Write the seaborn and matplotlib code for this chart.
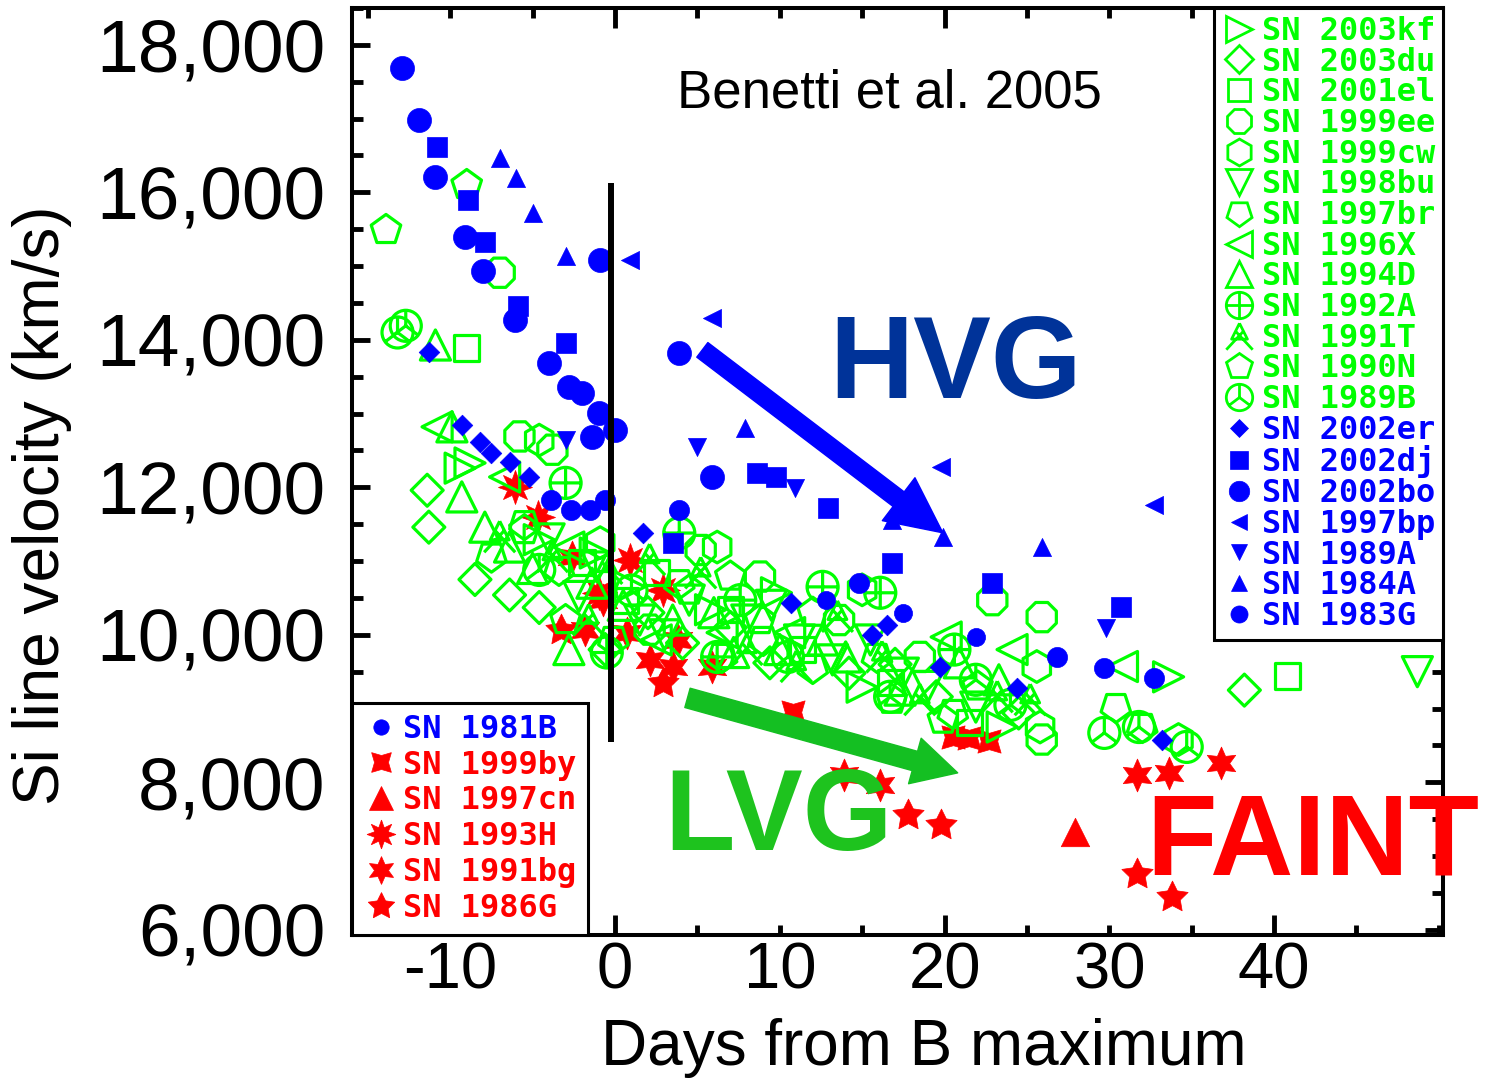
import matplotlib
matplotlib.use("Agg")
import matplotlib.pyplot as plt
import seaborn as sns
from matplotlib.path import Path
from matplotlib.lines import Line2D
from matplotlib.ticker import MultipleLocator

# ---------------------------------------------------------------
# Data: days from B maximum / Si II line velocity (km/s)
# ---------------------------------------------------------------
# LVG (green, open symbols)
sn2003kf_days = [-9.4, -8.8, -4.6, -1.2, 0.9, 5.8, 9.8, 15.0, 23.5, 33.6]
sn2003kf_vel = [12260, 12330, 11290, 11110, 10650, 10340, 10570, 9290, 8750, 9430]
sn2003du_days = [-11.4, -11.3, -8.5, -6.4, -4.6, -0.6, 2.0, 4.1, 7.0, 9.4, 14.2, 17.0, 19.5, 24.5, 38.2]
sn2003du_vel = [11960, 11460, 10750, 10540, 10370, 9800, 10300, 9890, 10100, 9620, 9480, 9600, 9160, 8940, 9250]
sn2001el_days = [-9.0, -2.0, 0.6, 2.5, 7.0, 11.4, 16.7, 21.5, 40.8]
sn2001el_vel = [13890, 10980, 10470, 10840, 10340, 9800, 9350, 8810, 9440]
sn1999ee_days = [-7.0, -5.8, -3.8, 2.1, 5.2, 8.8, 13.6, 18.5, 22.9, 25.9, 25.9]
sn1999ee_vel = [14910, 12690, 12510, 10070, 11150, 10790, 10200, 9700, 10470, 10240, 8580]
sn1999cw_days = [-4.6, -0.9, 6.2, 15.0, 25.6, 25.8, 34.2]
sn1999cw_vel = [12640, 11250, 11190, 10610, 9570, 8750, 8580]
sn1998bu_days = [-4.0, -2.2, -1.1, 1.5, 3.0, 4.5, 8.0, 9.5, 11.2, 13.2, 15.5, 17.5, 19.0, 21.9, 48.7]
sn1998bu_vel = [11300, 10520, 10920, 10200, 10000, 10470, 10200, 10400, 9930, 9660, 9930, 9480, 9300, 9020, 9500]
sn1997br_days = [-7.5, -5.5, -3.4, -0.1, 3.9, 6.5, 9.0, 12.0, 15.9, 20.5, 30.4, 32.0]
sn1997br_vel = [11060, 11500, 10880, 9930, 10700, 9700, 9930, 9550, 9700, 8940, 9020, 8750]
sn1996x_days = [-10.8, -6.7, -2.8, 2.5, 6.5, 10.6, 20.1, 24.1, 30.8]
sn1996x_vel = [12820, 12140, 11190, 9930, 10030, 10030, 9970, 9800, 9570]
sn1994d_days = [-10.9, -9.9, -9.3, -7.9, -6.4, -5.0, -2.8, -1.4, 0.5, 3.5, 6.0, 7.2, 10.0, 12.6, 14.0,
                17.3, 20.9, 23.3]
sn1994d_vel = [13930, 12820, 11870, 11460, 11190, 10900, 9800, 10700, 10400, 10200, 10300, 9760, 9800,
               9930, 9700, 9250, 9620, 9390]
sn1992a_days = [-3.0, -0.5, 3.9, 6.2, 7.6, 12.6, 16.1, 20.6]
sn1992a_vel = [12060, 9760, 11380, 9700, 10470, 10650, 10570, 9800]
sn1991t_days = [-7.0, -3.8, -1.6, -0.5, 2.1, 5.2, 8.0, 11.0, 13.5, 16.2, 18.5, 23.2, 25.2]
sn1991t_vel = [11330, 11060, 10200, 10900, 11020, 10840, 9800, 9570, 10250, 9700, 9120, 9160, 9120]
sn1990n_days = [-13.9, -9.0, -5.5, -3.0, 4.5, 7.0, 8.8, 12.0, 16.8, 19.9, 22.0]
sn1990n_vel = [15490, 16100, 11420, 10200, 10600, 10790, 10200, 10300, 9120, 8850, 9300]
sn1989b_days = [-13.2, -12.7, -4.6, 1.0, 10.5, 16.7, 21.9, 24.0, 29.7, 31.8, 34.7]
sn1989b_vel = [14100, 14190, 10880, 10600, 9700, 9160, 9390, 9050, 8670, 8750, 8480]

# HVG (blue, filled symbols)
sn2002er_days = [-11.3, -9.3, -8.2, -7.5, -6.4, -5.2, 1.7, 10.7, 15.6, 16.5, 19.7, 24.4, 33.2]
sn2002er_vel = [13840, 12850, 12620, 12470, 12350, 12140, 11380, 10430, 10000, 10130, 9570, 9280, 8580]
sn2002dj_days = [-10.8, -8.9, -7.9, -5.9, -3.0, 3.5, 8.6, 9.8, 12.9, 16.8, 22.9, 30.7]
sn2002dj_vel = [16620, 15900, 15330, 14460, 13960, 11250, 12200, 12140, 11720, 10980, 10700, 10380]
sn2002bo_days = [-12.9, -11.9, -10.9, -9.1, -8.0, -6.1, -4.0, -2.8, -2.0, -1.0, -1.4, 0.0, -0.9, 3.9, 5.9]
sn2002bo_vel = [17690, 16980, 16210, 15400, 14940, 14270, 13690, 13360, 13280, 13010, 12680, 12780, 15080,
                13820, 12140]
sn1997bp_days = [0.9, 5.9, 19.8, 32.7]
sn1997bp_vel = [15085, 14300, 12280, 11760]
sn1989a_days = [-3.0, 5.0, 10.9, 29.8]
sn1989a_vel = [12640, 12550, 11990, 10090]
sn1984a_days = [-7.0, -6.0, -5.0, -3.0, 7.9, 16.8, 19.9, 25.9]
sn1984a_vel = [16470, 16200, 15720, 15140, 12810, 11560, 11330, 11190]
sn1983g_days = [-3.9, -2.7, -1.5, -0.6, 3.9, 14.8, 26.8, 29.7, 32.7]
sn1983g_vel = [11830, 11690, 11690, 11830, 11690, 10700, 9700, 9550, 9420]
sn1981b_days = [12.8, 17.5, 21.9]
sn1981b_vel = [10470, 10300, 9970]

# FAINT (red, filled symbols)
sn1999by_days = [10.8, 20.5, 21.5, 22.7]
sn1999by_vel = [8960, 8620, 8600, 8560]
sn1997cn_days = [27.9]
sn1997cn_vel = [7330]
sn1993h_days = [-6.1, -4.7, 0.9, 2.9, -1.0]
sn1993h_vel = [12010, 11600, 11020, 10610, 10570]
sn1991bg_days = [-2.6, -1.8, -0.7, 0.7, 2.1, 3.5, 5.9, 3.8, 13.9, 16.1, 31.7, 33.6, 36.8]
sn1991bg_vel = [11060, 10070, 10470, 10030, 9660, 9570, 9570, 9930, 8100, 7960, 8100, 8130, 8260]
sn1986g_days = [-3.3, 2.9, 17.8, 19.8, 31.7, 33.8]
sn1986g_vel = [10070, 9350, 7560, 7420, 6750, 6450]

y_ticks = [6000, 8000, 10000, 12000, 14000, 16000, 18000]
y_tick_labels = ["6,000", "8,000", "10,000", "12,000", "14,000", "16,000", "18,000"]
x_major = [0, 20, 40]
x_major_labels = ["0", "20", "40"]
x_minor = [-15, -10, -5, 5, 10, 15, 25, 30, 35, 45, 50]
x_minor_labels = ["", "-10", "", "", "10", "", "", "30", "", "", ""]

# ---------------------------------------------------------------
# Styles
# ---------------------------------------------------------------
GREEN = "#00ff00"
BLUE = "#0000ff"
RED = "#ff0000"

circle_plus = Path.make_compound_path(
    Path.unit_circle(), Path([[-1, 0], [1, 0]]), Path([[0, -1], [0, 1]]))
circle_y = Path.make_compound_path(
    Path.unit_circle(), Path([[0, 0], [0, 1]]),
    Path([[0, 0], [-0.8, -0.6]]), Path([[0, 0], [0.8, -0.6]]))
tri_legs = Path.make_compound_path(
    Path([[0, 1], [-0.6, -0.2], [0.6, -0.2], [0, 1]]),
    Path([[-1, -1], [0.3, 0.4]]), Path([[1, -1], [-0.3, 0.4]]))

# label, days, vel, marker, size
green_series = [
    ("SN 2003kf", sn2003kf_days, sn2003kf_vel, ">", 470),
    ("SN 2003du", sn2003du_days, sn2003du_vel, "D", 265),
    ("SN 2001el", sn2001el_days, sn2001el_vel, "s", 330),
    ("SN 1999ee", sn1999ee_days, sn1999ee_vel, "8", 520),
    ("SN 1999cw", sn1999cw_days, sn1999cw_vel, "h", 520),
    ("SN 1998bu", sn1998bu_days, sn1998bu_vel, "v", 470),
    ("SN 1997br", sn1997br_days, sn1997br_vel, (5, 0, 180), 500),
    ("SN 1996X", sn1996x_days, sn1996x_vel, "<", 470),
    ("SN 1994D", sn1994d_days, sn1994d_vel, "^", 470),
    ("SN 1992A", sn1992a_days, sn1992a_vel, circle_plus, 500),
    ("SN 1991T", sn1991t_days, sn1991t_vel, tri_legs, 500),
    ("SN 1990N", sn1990n_days, sn1990n_vel, "p", 500),
    ("SN 1989B", sn1989b_days, sn1989b_vel, circle_y, 500),
]
blue_series = [
    ("SN 2002er", sn2002er_days, sn2002er_vel, "D", 110),
    ("SN 2002dj", sn2002dj_days, sn2002dj_vel, "s", 210),
    ("SN 2002bo", sn2002bo_days, sn2002bo_vel, "o", 300),
    ("SN 1997bp", sn1997bp_days, sn1997bp_vel, "<", 170),
    ("SN 1989A", sn1989a_days, sn1989a_vel, "v", 170),
    ("SN 1984A", sn1984a_days, sn1984a_vel, "^", 170),
    ("SN 1983G", sn1983g_days, sn1983g_vel, "o", 210),
]
faint_series = [
    ("SN 1981B", sn1981b_days, sn1981b_vel, "o", 170, BLUE),
    ("SN 1999by", sn1999by_days, sn1999by_vel, (4, 1, 45), 560, RED),
    ("SN 1997cn", sn1997cn_days, sn1997cn_vel, "^", 420, RED),
    ("SN 1993H", sn1993h_days, sn1993h_vel, (8, 1, 0), 600, RED),
    ("SN 1991bg", sn1991bg_days, sn1991bg_vel, (6, 1, 0), 560, RED),
    ("SN 1986G", sn1986g_days, sn1986g_vel, (5, 1, 0), 560, RED),
]

sns.set_style("ticks")
plt.rcParams["font.family"] = ["Liberation Sans", "DejaVu Sans"]
plt.rcParams["text.color"] = "black"
plt.rcParams["axes.labelcolor"] = "black"
plt.rcParams["xtick.color"] = "black"
plt.rcParams["ytick.color"] = "black"

fig = plt.figure(figsize=(14.88, 10.79), dpi=100)
ax = fig.add_axes([0.2366, 0.1335, 0.7332, 0.8591])

# red first, then green on top, then blue
for label, d, v, m, s, c in faint_series:
    if c == RED:
        sns.scatterplot(x=d, y=v, marker=m, s=s, color=c, edgecolor=c,
                        linewidth=0.5, ax=ax, zorder=2)
for label, d, v, m, s in green_series:
    sns.scatterplot(x=d, y=v, marker=m, s=s, facecolor="none", edgecolor=GREEN,
                    linewidth=2.3, ax=ax, zorder=3)
for label, d, v, m, s in blue_series:
    sns.scatterplot(x=d, y=v, marker=m, s=s, color=BLUE, edgecolor=BLUE,
                    linewidth=0.5, ax=ax, zorder=4)
for label, d, v, m, s, c in faint_series:
    if c == BLUE:
        sns.scatterplot(x=d, y=v, marker=m, s=s, color=c, edgecolor=c,
                        linewidth=0.5, ax=ax, zorder=4)

# maximum-light marker line
ax.plot([-0.25, -0.25], [8550, 16130], color="black", lw=4.3,
        solid_capstyle="butt", zorder=5)

# arrows
ax.annotate("", xy=(19.9, 11383), xytext=(5.3, 13864),
            arrowprops=dict(arrowstyle="simple,head_length=1.0,head_width=0.97,tail_width=0.33",
                            mutation_scale=40, color=BLUE, shrinkA=0, shrinkB=0), zorder=6)
ax.annotate("", xy=(20.8, 8128), xytext=(4.4, 9145),
            arrowprops=dict(arrowstyle="simple,head_length=0.8,head_width=0.85,tail_width=0.36",
                            mutation_scale=40, color="#14bf22", shrinkA=0, shrinkB=0), zorder=6)

# group labels
ax.text(0.493, 0.908, "Benetti et al. 2005", transform=ax.transAxes,
        ha="center", va="center", fontsize=38, color="black")
ax.text(0.437, 0.579, "HVG", transform=ax.transAxes, ha="left", va="baseline",
        fontsize=84, fontweight="bold", color="#003399", zorder=7)
ax.text(0.286, 0.092, "LVG", transform=ax.transAxes, ha="left", va="baseline",
        fontsize=83, fontweight="bold", color="#1ec31e", zorder=7)
ax.text(0.728, 0.065, "FAINT", transform=ax.transAxes, ha="left", va="baseline",
        fontsize=83, fontweight="bold", color=RED, clip_on=False, zorder=7)

# axes
ax.set_xlim(-15.96, 50.26)
ax.set_ylim(5930, 18500)
ax.set_xticks(x_major, labels=x_major_labels)
ax.set_xticks(x_minor, labels=x_minor_labels, minor=True)
ax.set_yticks(y_ticks, labels=y_tick_labels)
ax.yaxis.set_minor_locator(MultipleLocator(500))
ax.tick_params(which="both", direction="in", top=True, right=True,
               width=3.5, color="black", labelcolor="black")
ax.tick_params(axis="x", which="major", length=14.4)
ax.tick_params(axis="x", which="minor", length=7.5)
ax.tick_params(axis="y", which="major", length=13)
ax.tick_params(axis="y", which="minor", length=8)
ax.tick_params(axis="y", which="both", labelsize=54, pad=19)
ax.tick_params(axis="x", which="both", labelsize=47, pad=5)
for lbl in ax.get_xticklabels(which="both"):
    lbl.set_family(["Liberation Sans Narrow", "Liberation Sans"])
for sp in ax.spines.values():
    sp.set_linewidth(2.9)
    sp.set_color("black")

ax.set_xlabel("Days from B maximum", fontsize=46, color="black")
ax.set_ylabel("Si line velocity (km/s)", fontsize=46, color="black")
ax.xaxis.set_label_coords(0.524, -0.09)
ax.yaxis.set_label_coords(-0.257, 0.464)


def make_handle(marker, color, size, hollow):
    return Line2D([], [], linestyle="none", marker=marker,
                  markersize=size ** 0.5 * 0.85,
                  markerfacecolor="none" if hollow else color,
                  markeredgecolor=color, markeredgewidth=2 if hollow else 0.5)


legend_font = dict(family="DejaVu Sans Mono", weight="bold", size=23)

h1, l1, c1 = [], [], []
for label, d, v, m, s in green_series:
    h1.append(make_handle(m, GREEN, s, True))
    l1.append(label)
    c1.append(GREEN)
for label, d, v, m, s in blue_series:
    h1.append(make_handle(m, BLUE, s, False))
    l1.append(label)
    c1.append(BLUE)
leg1 = ax.legend(h1, l1, loc="upper right", bbox_to_anchor=(1, 1), borderaxespad=0,
                 fancybox=False, framealpha=1, edgecolor="black", prop=legend_font,
                 labelspacing=-0.01, handlelength=1.1, handletextpad=0.15,
                 borderpad=0.25)
leg1.get_frame().set_linewidth(2.2)
for t, c in zip(leg1.get_texts(), c1):
    t.set_color(c)
ax.add_artist(leg1)

h2 = [make_handle(m, c, s, False) for label, d, v, m, s, c in faint_series]
l2 = [label for label, d, v, m, s, c in faint_series]
leg2 = ax.legend(h2, l2, loc="lower left", bbox_to_anchor=(0, 0), borderaxespad=0,
                 fancybox=False, framealpha=1, edgecolor="black", prop=legend_font,
                 labelspacing=0.15, handlelength=1.1, handletextpad=0.15,
                 borderpad=0.35)
leg2.get_frame().set_linewidth(2.2)
for t, (label, d, v, m, s, c) in zip(leg2.get_texts(), faint_series):
    t.set_color(c)
leg1.set_zorder(8)
leg2.set_zorder(8)

fig.savefig("out.png", dpi=100)
plt.close(fig)
